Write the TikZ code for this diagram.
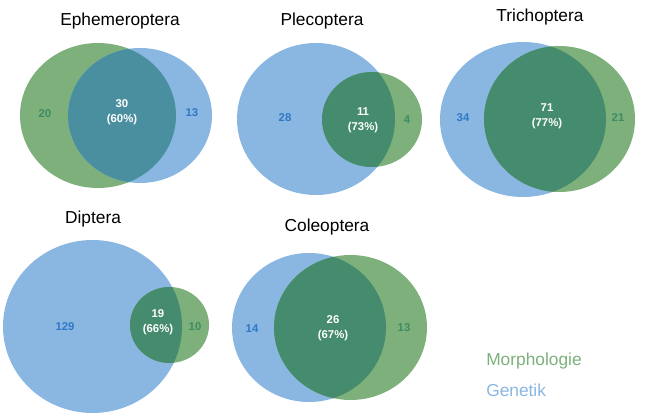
\documentclass[tikz,border=0pt]{standalone}
\usepackage{fontspec}
\setmainfont{Liberation Sans}
\usetikzlibrary{positioning}
\definecolor{morphgreen}{HTML}{7DB07B}
\definecolor{genblue}{HTML}{89B7E2}
\definecolor{bothgreen}{HTML}{458B6E}
\definecolor{bothteal}{HTML}{4A8FA0}
\definecolor{morphtext}{HTML}{3E8C63}
\definecolor{gentext}{HTML}{2F78C6}
\tikzset{
  morphset/.style={fill=morphgreen},
  genset/.style={fill=genblue},
  ordertitle/.style={font=\fontsize{13}{15}\selectfont, inner sep=0pt},
  cnt/.style={font=\bfseries\fontsize{8.5}{11}\selectfont, align=center, inner sep=0pt},
  morphcnt/.style={cnt, text=morphtext},
  gencnt/.style={cnt, text=gentext},
  bothcnt/.style={cnt, text=white},
  legendtext/.style={font=\fontsize{13}{15}\selectfont, anchor=west, inner sep=0pt}
}

\begin{document}
\begin{tikzpicture}[x=0.75pt, y=-0.75pt]
  \useasboundingbox (0,0) rectangle (650,417);

  % Ephemeroptera
  \fill[morphset] (98,115.5) ellipse [x radius=78, y radius=72.5];
  \fill[genset] (140,115.5) ellipse [x radius=72, y radius=67.5];
  \begin{scope}
    \clip (98,115.5) ellipse [x radius=78, y radius=72.5];
    \fill[bothteal] (140,115.5) ellipse [x radius=72, y radius=67.5];
  \end{scope}
  \node[ordertitle] (ephtitle) at (120,21) {Ephemeroptera};
  \node[morphcnt] (ephmorph) at (45,114) {20};
  \node[bothcnt] (ephboth) at (122,112) {30\\(60\%)};
  \node[gencnt] (ephgen) at (192,113) {13};

  % Plecoptera
  \fill[genset] (316,119) ellipse [x radius=79, y radius=76];
  \fill[morphset] (372,119.5) ellipse [x radius=50, y radius=47.5];
  \begin{scope}
    \clip (316,119) ellipse [x radius=79, y radius=76];
    \fill[bothgreen] (372,119.5) ellipse [x radius=50, y radius=47.5];
  \end{scope}
  \node[ordertitle] (pletitle) at (322,21) {Plecoptera};
  \node[gencnt] (plegen) at (285,118) {28};
  \node[bothcnt] (pleboth) at (363,120) {11\\(73\%)};
  \node[morphcnt] (plemorph) at (407,120) {4};

  % Trichoptera
  \fill[genset] (523,119.5) ellipse [x radius=83, y radius=77.5];
  \fill[morphset] (559.5,119) ellipse [x radius=75.5, y radius=73];
  \begin{scope}
    \clip (523,119.5) ellipse [x radius=83, y radius=77.5];
    \fill[bothgreen] (559.5,119) ellipse [x radius=75.5, y radius=73];
  \end{scope}
  \node[ordertitle] (tritle) at (540,17) {Trichoptera};
  \node[gencnt] (trigen) at (463,118) {34};
  \node[bothcnt] (triboth) at (547,116.5) {71\\(77\%)};
  \node[morphcnt] (trimorph) at (618,118) {21};

  % Diptera
  \fill[genset] (92.5,326.5) ellipse [x radius=89.5, y radius=86.5];
  \fill[morphset] (169.5,325) ellipse [x radius=39.5, y radius=38];
  \begin{scope}
    \clip (92.5,326.5) ellipse [x radius=89.5, y radius=86.5];
    \fill[bothgreen] (169.5,325) ellipse [x radius=39.5, y radius=38];
  \end{scope}
  \node[ordertitle] (diptitle) at (93,219) {Diptera};
  \node[gencnt] (dipgen) at (65,327) {129};
  \node[bothcnt] (dipboth) at (158,322) {19\\(66\%)};
  \node[morphcnt] (dipmorph) at (195,327) {10};

  % Coleoptera
  \fill[genset] (309,327.5) ellipse [x radius=77, y radius=74.5];
  \fill[morphset] (350.5,327.5) ellipse [x radius=76.5, y radius=72.5];
  \begin{scope}
    \clip (309,327.5) ellipse [x radius=77, y radius=74.5];
    \fill[bothgreen] (350.5,327.5) ellipse [x radius=76.5, y radius=72.5];
  \end{scope}
  \node[ordertitle] (coltitle) at (327,227) {Coleoptera};
  \node[gencnt] (colgen) at (252,329) {14};
  \node[bothcnt] (colboth) at (333,328) {26\\(67\%)};
  \node[morphcnt] (colmorph) at (404,328) {13};

  % legend
  \node[legendtext, text=morphgreen] (legmorph) at (486,361) {Morphologie};
  \node[legendtext, text=genblue] (leggen) at (486,390) {Genetik};
\end{tikzpicture}
\end{document}
